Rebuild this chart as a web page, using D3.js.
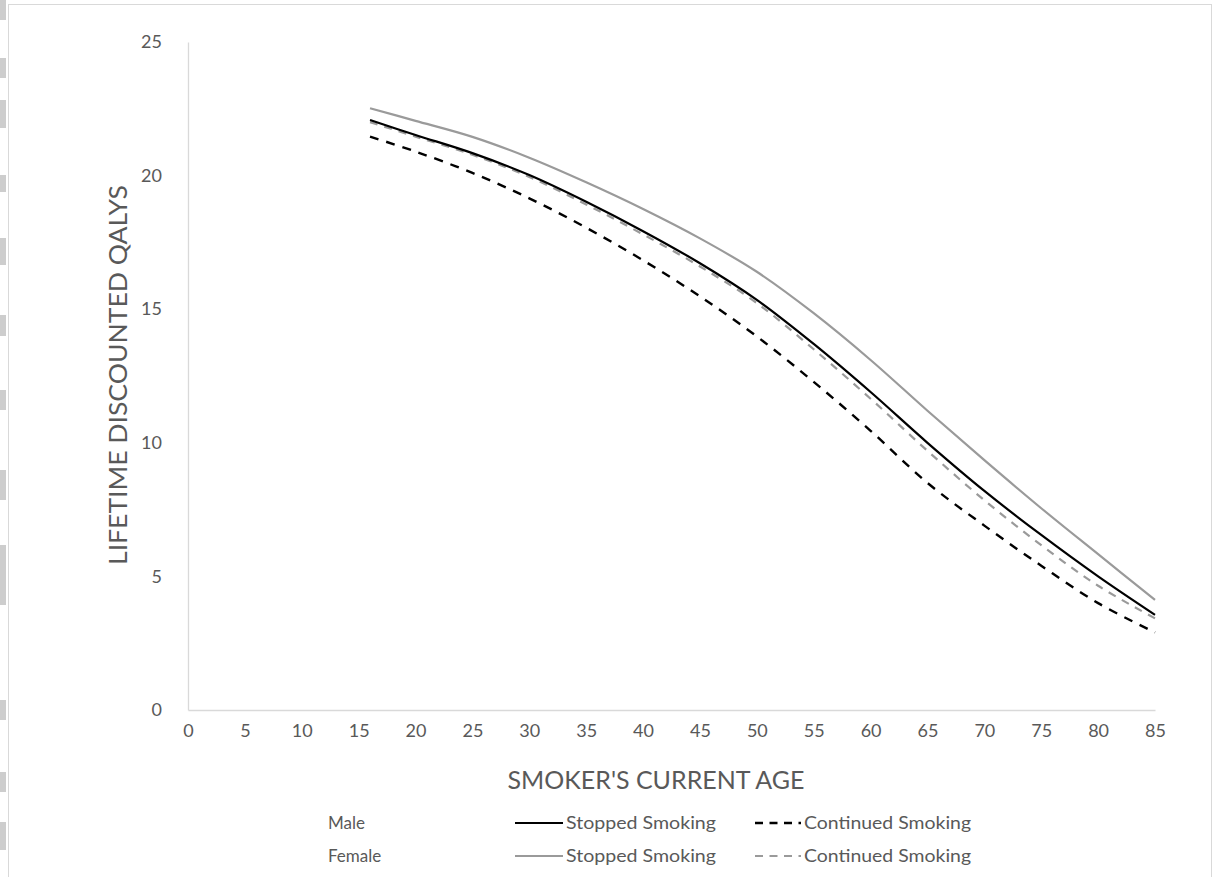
<!DOCTYPE html>
<html>
<head>
<meta charset="utf-8">
<script src="https://cdn.jsdelivr.net/npm/d3@7"></script>
<style>
  html, body { margin: 0; padding: 0; background: #fff; }
  svg { display: block; }
  text { font-family: Lato, "Open Sans", sans-serif; fill: #595959; }
</style>
</head>
<body>
<div id="chart"></div>
<script>
// ---- data ----
const ages = [16, 20, 25, 30, 35, 40, 45, 50, 55, 60, 65, 70, 75, 80, 85];
const maleStopped     = [22.08, 21.52, 20.84, 20.02, 19.02, 17.92, 16.72, 15.35, 13.70, 11.90, 10.00, 8.20, 6.55, 5.00, 3.56];
const maleContinued   = [21.46, 20.90, 20.10, 19.15, 18.05, 16.83, 15.48, 13.98, 12.28, 10.45, 8.50, 6.90, 5.40, 4.00, 2.90];
const femaleStopped   = [22.52, 22.05, 21.45, 20.67, 19.75, 18.75, 17.65, 16.40, 14.85, 13.10, 11.20, 9.35, 7.55, 5.83, 4.12];
const femaleContinued = [22.00, 21.46, 20.78, 19.95, 18.92, 17.80, 16.60, 15.23, 13.50, 11.65, 9.70, 7.85, 6.17, 4.65, 3.43];
const xTicks = [0,5,10,15,20,25,30,35,40,45,50,55,60,65,70,75,80,85];
const yTicks = [0,5,10,15,20,25];

const W = 1216, H = 877;
const svg = d3.select("#chart").append("svg").attr("width", W).attr("height", H);

// decorative left-edge artifacts and outer frame
const edgeBlocks = [[0,20],[58,78],[100,128],[175,192],[238,265],[315,336],[390,410],[470,500],[545,605],[700,720],[772,792],[822,850]];
svg.selectAll("rect.edge").data(edgeBlocks).enter().append("rect")
  .attr("x", 0).attr("y", d => d[0]).attr("width", 6).attr("height", d => d[1]-d[0])
  .attr("fill", "#cdcdcd");
svg.append("rect").attr("x", 8.5).attr("y", 4.5).attr("width", 1203).attr("height", 880)
  .attr("fill", "none").attr("stroke", "#d9d9d9").attr("stroke-width", 1);

const x = d3.scaleLinear().domain([0, 85]).range([188, 1155]);
const y = d3.scaleLinear().domain([0, 25]).range([710, 42]);

// axes
const xAxis = svg.append("g").attr("transform", "translate(0,710)")
  .call(d3.axisBottom(x).tickValues(xTicks).tickSize(0).tickPadding(14).tickFormat(d3.format("d")));
const yAxis = svg.append("g").attr("transform", "translate(188,0)")
  .call(d3.axisLeft(y).tickValues(yTicks).tickSize(0).tickPadding(26).tickFormat(d3.format("d")));
[xAxis, yAxis].forEach(g => {
  g.select(".domain").attr("stroke", "#d9d9d9").attr("stroke-width", 1.3);
  g.selectAll("text").style("font-size", "18px").attr("fill", "#595959")
    .style("font-family", "Lato, sans-serif");
});
xAxis.selectAll("text").attr("dy", "0.71em");

// axis titles
svg.append("text").attr("x", 656).attr("y", 789).attr("text-anchor", "middle")
  .style("font-size", "25px").attr("textLength", 297).attr("lengthAdjust", "spacingAndGlyphs")
  .text("SMOKER'S CURRENT AGE");
svg.append("text").attr("transform", "translate(127,375) rotate(-90)").attr("text-anchor", "middle")
  .style("font-size", "25px").attr("textLength", 380).attr("lengthAdjust", "spacingAndGlyphs")
  .text("LIFETIME DISCOUNTED QALYS");

// lines
const styles = {
  "Male Stopped":     {color: "#000000", dash: null,  width: 2.2, values: maleStopped},
  "Male Continued":   {color: "#000000", dash: "9,8", width: 2.4, values: maleContinued},
  "Female Stopped":   {color: "#9a9a9a", dash: null,  width: 2.2, values: femaleStopped},
  "Female Continued": {color: "#9a9a9a", dash: "8,7", width: 2.2, values: femaleContinued}
};
const line = d3.line().x(d => x(d[0])).y(d => y(d[1])).curve(d3.curveCatmullRom.alpha(0.5));
["Female Continued", "Male Continued", "Female Stopped", "Male Stopped"].forEach(name => {
  const s = styles[name];
  svg.append("path")
    .datum(ages.map((a, i) => [a, s.values[i]]))
    .attr("fill", "none").attr("stroke", s.color).attr("stroke-width", s.width)
    .attr("stroke-dasharray", s.dash)
    .attr("d", line);
});

// legend
const legendRows = [
  {label: "Male", y: 823, stopped: "Male Stopped", cont: "Male Continued"},
  {label: "Female", y: 856, stopped: "Female Stopped", cont: "Female Continued"}
];
legendRows.forEach(r => {
  svg.append("text").attr("x", 328).attr("y", r.y).attr("dy", "0.35em")
    .style("font-size", "17px").text(r.label);
  const s1 = styles[r.stopped], s2 = styles[r.cont];
  svg.append("line").attr("x1", 515).attr("x2", 563).attr("y1", r.y).attr("y2", r.y)
    .attr("stroke", s1.color).attr("stroke-width", s1.width);
  svg.append("text").attr("x", 566).attr("y", r.y).attr("dy", "0.35em")
    .style("font-size", "17px").attr("textLength", 150).attr("lengthAdjust", "spacingAndGlyphs")
    .text("Stopped Smoking");
  svg.append("line").attr("x1", 755).attr("x2", 801).attr("y1", r.y).attr("y2", r.y)
    .attr("stroke", s2.color).attr("stroke-width", s2.width).attr("stroke-dasharray", "8,6.5");
  svg.append("text").attr("x", 804).attr("y", r.y).attr("dy", "0.35em")
    .style("font-size", "17px").attr("textLength", 167).attr("lengthAdjust", "spacingAndGlyphs")
    .text("Continued Smoking");
});
</script>
</body>
</html>
